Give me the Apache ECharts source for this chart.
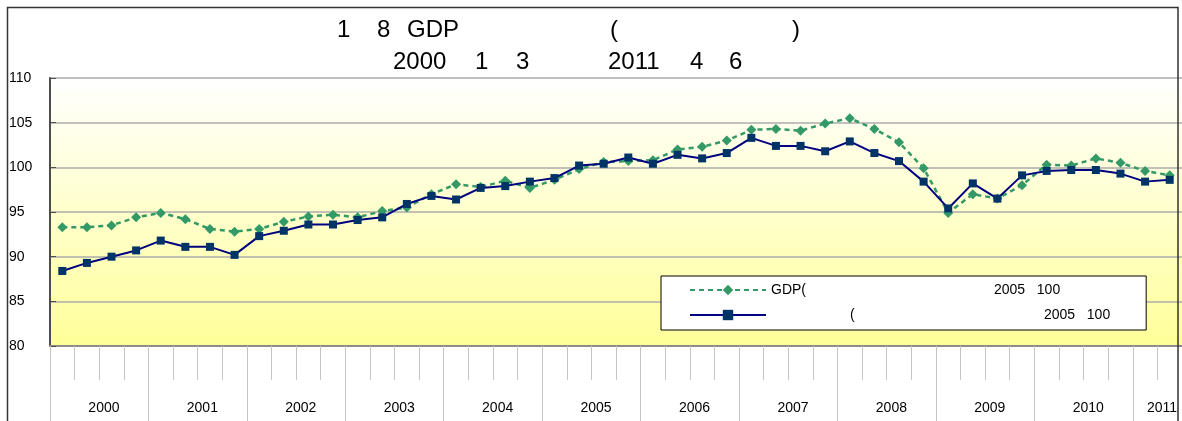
<!DOCTYPE html>
<html>
<head>
<meta charset="utf-8">
<script src="https://cdn.jsdelivr.net/npm/echarts@6/dist/echarts.min.js"></script>
<style>
  html, body { margin: 0; padding: 0; background: #fff; }
  #chart { width: 1182px; height: 421px; }
</style>
</head>
<body>
<div id="chart"></div>
<script>
// years on the category axis and how many quarters each one has
const years = ['2000', '2001', '2002', '2003', '2004', '2005', '2006', '2007', '2008', '2009', '2010', '2011'];
const quartersPerYear = [4, 4, 4, 4, 4, 4, 4, 4, 4, 4, 4, 2];

// GDP (2005 = 100), quarterly
const gdp = [
    93.3, 93.3, 93.5, 94.4,
    94.9, 94.2, 93.1, 92.8,
    93.1, 93.9, 94.5, 94.7,
    94.4, 95.1, 95.5, 97.0,
    98.1, 97.8, 98.5, 97.7,
    98.6, 99.8, 100.6, 100.7,
    100.8, 102.0, 102.3, 103.0,
    104.2, 104.3, 104.1, 104.9,
    105.5, 104.3, 102.8, 99.9,
    94.9, 97.0, 96.5, 98.0,
    100.3, 100.2, 101.0, 100.5,
    99.6, 99.1
];

// production index (2005 = 100), quarterly
const iip = [
    88.4, 89.3, 90.0, 90.7,
    91.8, 91.1, 91.1, 90.2,
    92.3, 92.9, 93.6, 93.6,
    94.1, 94.4, 95.9, 96.8,
    96.4, 97.7, 97.9, 98.4,
    98.8, 100.2, 100.4, 101.1,
    100.4, 101.4, 101.0, 101.6,
    103.3, 102.4, 102.4, 101.8,
    102.9, 101.6, 100.7, 98.4,
    95.4, 98.2, 96.5, 99.1,
    99.6, 99.7, 99.7, 99.3,
    98.4, 98.6
];

const yTicks = { min: 80, max: 110, step: 5 };

// title fragments (the rest of the original title did not render)
const titleLine1 = [['1', 337], ['8', 377], ['GDP', 407], ['(', 610], [')', 792]];
const titleLine2 = [['2000', 393], ['1', 475], ['3', 516], ['2011', 608], ['4', 690], ['6', 729]];

const legendNames = ['GDP(', '('];
const legendTail = '2005   100';

// build quarter categories + which index carries the year label
const categories = [];
const yearAt = {};
const yearStart = {};
years.forEach((y, i) => {
    const n = quartersPerYear[i];
    yearStart[categories.length] = true;
    yearAt[categories.length + (n === 4 ? 1 : 0)] = y;
    for (let q = 1; q <= n; q++) categories.push(y + '-' + q);
});

const FONT = 'Liberation Sans';

const titles = [];
titleLine1.forEach(([t, x]) => titles.push({
    text: t, left: x, top: 18, padding: 0,
    textStyle: { fontFamily: FONT, fontSize: 24, fontWeight: 'normal', color: '#000' }
}));
titleLine2.forEach(([t, x]) => titles.push({
    text: t, left: x, top: 50, padding: 0,
    textStyle: { fontFamily: FONT, fontSize: 24, fontWeight: 'normal', color: '#000' }
}));

const chart = echarts.init(document.getElementById('chart'));

const option = {
    animation: false,
    title: titles,
    graphic: [{
        type: 'rect',
        shape: { x: 7.5, y: 7.5, width: 1170.5, height: 500 },
        style: { fill: 'none', stroke: '#333', lineWidth: 1.5 },
        z: 100
    }],
    grid: {
        left: 50,
        right: 0,
        top: 78,
        bottom: 75,
        show: true,
        borderWidth: 0,
        backgroundColor: {
            type: 'linear', x: 0, y: 0, x2: 0, y2: 1,
            colorStops: [
                { offset: 0, color: '#FFFFFF' },
                { offset: 1, color: '#FFFF99' }
            ]
        }
    },
    legend: {
        orient: 'vertical',
        left: 661,
        top: 276,
        padding: [7, 36, 8, 28],
        itemGap: 11,
        itemWidth: 76,
        itemHeight: 13,
        backgroundColor: '#fff',
        borderColor: '#000',
        borderWidth: 1,
        data: [legendNames[0], legendNames[1]],
        formatter: name => name === legendNames[0]
            ? '{a|' + name + '}{b|' + legendTail + '}'
            : '{s| }{c|' + name + '}{b|' + legendTail + '}',
        textStyle: {
            fontFamily: FONT, fontSize: 14, color: '#000',
            rich: {
                a: { fontFamily: FONT, fontSize: 14, width: 223 },
                s: { fontFamily: FONT, fontSize: 14, width: 79 },
                c: { fontFamily: FONT, fontSize: 14, width: 194 },
                b: { fontFamily: FONT, fontSize: 14 }
            }
        }
    },
    xAxis: [{
        type: 'category',
        data: categories,
        boundaryGap: true,
        axisLine: { show: true, lineStyle: { color: '#8C8C8C', width: 2 } },
        axisTick: { show: true, interval: 0, length: 34, lineStyle: { color: '#C4C4C4', width: 1 } },
        axisLabel: {
            interval: idx => yearAt[idx] !== undefined,
            formatter: (v, idx) => yearAt[idx] || '',
            margin: 55,
            padding: [0, 0, 0, 34],
            fontFamily: FONT,
            fontSize: 14,
            color: '#000'
        },
        splitLine: { show: false }
    }, {
        type: 'category',
        data: categories,
        position: 'bottom',
        boundaryGap: true,
        axisLine: { show: false },
        axisTick: {
            show: true,
            interval: idx => yearStart[idx] === true,
            length: 80,
            lineStyle: { color: '#C4C4C4', width: 1 }
        },
        axisLabel: { show: false }
    }],
    yAxis: {
        type: 'value',
        min: yTicks.min,
        max: yTicks.max,
        interval: yTicks.step,
        axisLine: { show: true, lineStyle: { color: '#4D4D4D', width: 2 } },
        axisTick: { show: true, inside: true, length: 6, lineStyle: { color: '#4D4D4D' } },
        axisLabel: {
            align: 'left',
            margin: 41,
            fontFamily: FONT,
            fontSize: 14,
            color: '#000'
        },
        splitLine: { lineStyle: { color: '#ABABAB', width: 1.5 } }
    },
    series: [{
        name: legendNames[0],
        type: 'line',
        data: gdp,
        symbol: 'diamond',
        symbolSize: 10,
        itemStyle: { color: '#339966' },
        lineStyle: { color: '#339966', width: 2.5, type: [5, 4] },
        z: 2
    }, {
        name: legendNames[1],
        type: 'line',
        data: iip,
        symbol: 'rect',
        symbolSize: 8,
        itemStyle: { color: '#003366' },
        lineStyle: { color: '#000080', width: 2 },
        z: 3
    }]
};

chart.setOption(option);
</script>
</body>
</html>
